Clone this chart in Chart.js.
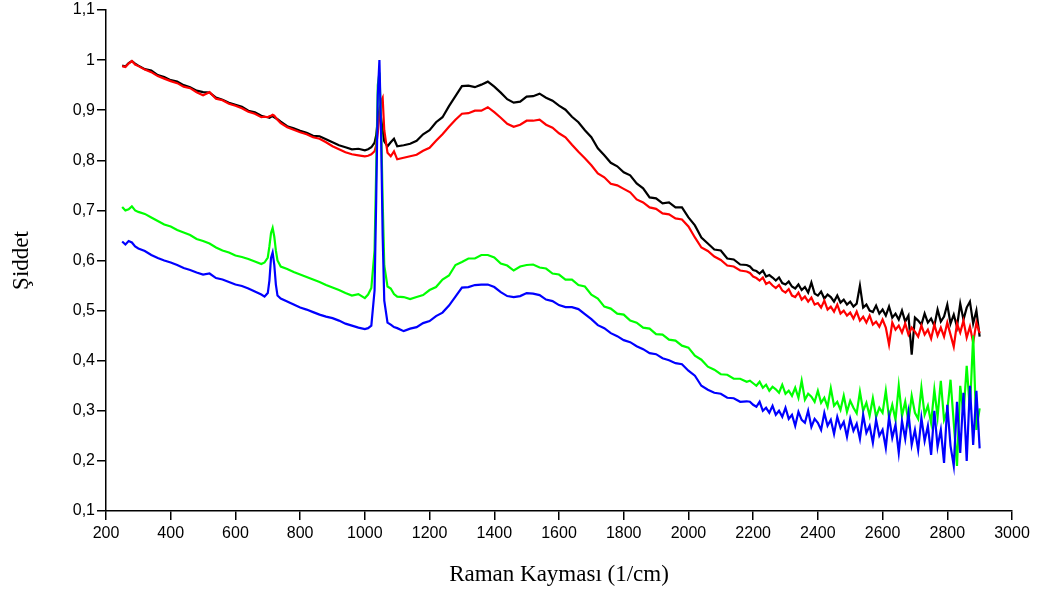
<!DOCTYPE html>
<html>
<head>
<meta charset="utf-8">
<script src="https://cdn.jsdelivr.net/npm/chart.js@4"></script>
<style>
  body { margin: 0; background: #fff; }
</style>
</head>
<body>
<canvas id="ramanChart" width="1037" height="592"></canvas>
<script>
// Raman kayması (1/cm)
const shifts = [
  250, 260, 270, 280, 290, 300,
  320, 340, 360, 380, 400, 420, 440, 460, 480, 500, 520, 540, 560, 580, 600, 620, 640, 660, 680,
  690, 700, 705, 710, 715, 720, 725, 730,
  740, 760, 780, 800, 820, 840, 860, 880, 900, 920, 940, 960, 980, 1000,
  1010, 1020, 1030, 1035, 1040, 1045, 1050, 1055, 1060, 1070, 1080, 1090, 1100,
  1120, 1140, 1160, 1180, 1200, 1220, 1240, 1260, 1280, 1300, 1320, 1340, 1360, 1380, 1400, 1420, 1440, 1460,
  1480, 1500, 1520, 1540, 1560, 1580, 1600, 1620, 1640, 1660, 1680, 1700, 1720, 1740, 1760, 1780, 1800, 1820,
  1840, 1860, 1880, 1900, 1920, 1940, 1960, 1980, 2000, 2020, 2040, 2060, 2080, 2100, 2120, 2140, 2160, 2180,
  2190, 2200, 2210, 2220, 2230, 2240, 2250, 2260, 2270, 2280, 2290, 2300, 2310, 2320, 2330, 2340, 2350, 2360,
  2370, 2380, 2390, 2400, 2410, 2420, 2430, 2440, 2450, 2460, 2470, 2480, 2490, 2500, 2510, 2520, 2530, 2540,
  2550, 2560, 2570, 2580, 2590, 2600, 2610, 2620, 2630, 2640, 2650, 2660, 2670, 2680, 2690, 2700, 2710, 2720,
  2730, 2740, 2750, 2760, 2770, 2780, 2790, 2800, 2810, 2820, 2830, 2840, 2850, 2860, 2870, 2880, 2890, 2900
];

// Siyah spektrum
const blackSeries = [
  0.989, 0.987, 0.994, 0.998, 0.993, 0.989,
  0.982, 0.979, 0.970, 0.966, 0.960, 0.957, 0.950, 0.946, 0.939, 0.936, 0.935, 0.925, 0.921, 0.915, 0.911, 0.907, 0.899, 0.896, 0.889,
  0.887, 0.886, 0.885, 0.887, 0.888, 0.886, 0.884, 0.882,
  0.877, 0.868, 0.864, 0.859, 0.855, 0.849, 0.848, 0.842, 0.836, 0.830, 0.826, 0.822, 0.823, 0.820,
  0.822, 0.826, 0.835, 0.850, 0.880, 0.900, 0.885, 0.860, 0.838, 0.828, 0.836, 0.843, 0.828,
  0.830, 0.833, 0.839, 0.852, 0.860, 0.876, 0.886, 0.908, 0.928, 0.948, 0.949, 0.946, 0.951, 0.957, 0.947, 0.935, 0.922, 0.915,
  0.917, 0.927, 0.928, 0.933, 0.925, 0.919, 0.909, 0.901, 0.887, 0.876, 0.860, 0.846, 0.824, 0.810, 0.795, 0.788, 0.776, 0.770,
  0.754, 0.744, 0.726, 0.724, 0.714, 0.716, 0.706, 0.706, 0.686, 0.670, 0.646, 0.634, 0.622, 0.620, 0.604, 0.602, 0.592, 0.591,
  0.588, 0.581, 0.579, 0.574, 0.580, 0.568, 0.571, 0.566, 0.560, 0.566, 0.555, 0.552, 0.558, 0.548, 0.544, 0.552, 0.541, 0.547,
  0.536, 0.556, 0.534, 0.530, 0.538, 0.524, 0.532, 0.527, 0.518, 0.530, 0.516, 0.522, 0.512, 0.518, 0.508, 0.514, 0.550, 0.506,
  0.512, 0.500, 0.497, 0.510, 0.494, 0.502, 0.490, 0.508, 0.486, 0.494, 0.482, 0.500, 0.478, 0.490, 0.412, 0.486, 0.480, 0.472,
  0.494, 0.476, 0.484, 0.470, 0.502, 0.478, 0.488, 0.512, 0.474, 0.492, 0.468, 0.514, 0.482, 0.506, 0.518, 0.474, 0.500, 0.448
];

// Kırmızı spektrum
const redSeries = [
  0.988, 0.986, 0.993, 0.998, 0.991, 0.988,
  0.981, 0.976, 0.968, 0.963, 0.958, 0.954, 0.947, 0.944, 0.936, 0.930, 0.936, 0.923, 0.920, 0.913, 0.909, 0.904, 0.897, 0.893, 0.886,
  0.887, 0.886, 0.888, 0.889, 0.891, 0.889, 0.885, 0.881,
  0.874, 0.866, 0.861, 0.856, 0.852, 0.846, 0.843, 0.836, 0.828, 0.822, 0.816, 0.812, 0.810, 0.808,
  0.809, 0.812, 0.818, 0.830, 0.855, 0.890, 0.918, 0.925, 0.860, 0.815, 0.808, 0.818, 0.802,
  0.805, 0.808, 0.811, 0.819, 0.825, 0.839, 0.852, 0.867, 0.881, 0.893, 0.894, 0.899, 0.899, 0.906, 0.896, 0.885, 0.873, 0.867,
  0.871, 0.879, 0.879, 0.881, 0.871, 0.865, 0.854, 0.846, 0.831, 0.817, 0.804, 0.790, 0.774, 0.766, 0.753, 0.750, 0.743, 0.736,
  0.722, 0.716, 0.706, 0.703, 0.694, 0.692, 0.684, 0.682, 0.668, 0.646, 0.626, 0.619, 0.608, 0.601, 0.590, 0.588, 0.580, 0.578,
  0.575, 0.568, 0.565, 0.560, 0.566, 0.553, 0.557, 0.550, 0.545, 0.551, 0.540, 0.536, 0.543, 0.530, 0.527, 0.536, 0.522, 0.528,
  0.518, 0.526, 0.512, 0.515, 0.506, 0.520, 0.502, 0.508, 0.498, 0.512, 0.494, 0.500, 0.490, 0.496, 0.484, 0.498, 0.480, 0.488,
  0.476, 0.490, 0.472, 0.478, 0.468, 0.482, 0.466, 0.432, 0.476, 0.462, 0.470, 0.456, 0.474, 0.452, 0.466, 0.458, 0.448, 0.470,
  0.452, 0.462, 0.444, 0.472, 0.450, 0.466, 0.448, 0.476, 0.452, 0.428, 0.474, 0.456, 0.480, 0.446, 0.468, 0.436, 0.476, 0.455
];

// Yeşil spektrum
const greenSeries = [
  0.707, 0.700, 0.702, 0.708, 0.700, 0.697,
  0.693, 0.686, 0.679, 0.672, 0.668, 0.661, 0.656, 0.651, 0.643, 0.639, 0.634, 0.626, 0.620, 0.616, 0.610, 0.607, 0.603, 0.598, 0.593,
  0.596, 0.606, 0.628, 0.655, 0.665, 0.648, 0.620, 0.600,
  0.588, 0.583, 0.577, 0.572, 0.567, 0.562, 0.557, 0.551, 0.546, 0.541, 0.535, 0.530, 0.533, 0.525,
  0.532, 0.545, 0.620, 0.780, 0.950, 0.975, 0.880, 0.720, 0.590, 0.548, 0.544, 0.533, 0.528,
  0.527, 0.523, 0.527, 0.531, 0.541, 0.547, 0.562, 0.570, 0.591, 0.597, 0.604, 0.604, 0.611, 0.611, 0.606, 0.594, 0.590, 0.580,
  0.588, 0.591, 0.592, 0.586, 0.584, 0.574, 0.572, 0.562, 0.562, 0.551, 0.548, 0.532, 0.524, 0.508, 0.504, 0.494, 0.492, 0.480,
  0.476, 0.466, 0.464, 0.453, 0.452, 0.442, 0.440, 0.430, 0.426, 0.410, 0.402, 0.388, 0.382, 0.373, 0.372, 0.364, 0.364, 0.358,
  0.360, 0.355, 0.350, 0.358, 0.346, 0.352, 0.340, 0.348, 0.343, 0.336, 0.352, 0.334, 0.340, 0.330, 0.346, 0.326, 0.360, 0.322,
  0.334, 0.328, 0.318, 0.340, 0.316, 0.326, 0.308, 0.345, 0.310, 0.318, 0.302, 0.330, 0.298, 0.320, 0.306, 0.295, 0.338, 0.300,
  0.316, 0.290, 0.325, 0.288, 0.306, 0.296, 0.340, 0.286, 0.312, 0.282, 0.350, 0.290, 0.318, 0.278, 0.330, 0.296, 0.284, 0.346,
  0.292, 0.310, 0.276, 0.342, 0.288, 0.360, 0.282, 0.300, 0.362, 0.276, 0.190, 0.350, 0.292, 0.390, 0.302, 0.450, 0.262, 0.305
];

// Mavi spektrum
const blueSeries = [
  0.638, 0.632, 0.639, 0.636, 0.628, 0.624,
  0.619, 0.611, 0.605, 0.600, 0.596, 0.591, 0.585, 0.581, 0.576, 0.572, 0.574, 0.565, 0.562, 0.557, 0.552, 0.549, 0.544, 0.538, 0.532,
  0.528, 0.535, 0.560, 0.605, 0.616, 0.592, 0.552, 0.530,
  0.524, 0.518, 0.512, 0.506, 0.502, 0.497, 0.492, 0.488, 0.485, 0.480, 0.474, 0.470, 0.466, 0.463,
  0.465, 0.470, 0.540, 0.720, 0.930, 1.000, 0.860, 0.650, 0.520, 0.476, 0.472, 0.467, 0.465,
  0.459, 0.464, 0.467, 0.475, 0.479, 0.489, 0.496, 0.510, 0.528, 0.546, 0.547, 0.551, 0.552, 0.552, 0.547, 0.537, 0.529, 0.527,
  0.529, 0.535, 0.534, 0.531, 0.522, 0.519, 0.511, 0.507, 0.507, 0.503, 0.493, 0.483, 0.471, 0.465, 0.455, 0.449, 0.441, 0.437,
  0.429, 0.423, 0.415, 0.413, 0.405, 0.401, 0.395, 0.393, 0.380, 0.370, 0.350, 0.342, 0.336, 0.334, 0.326, 0.325, 0.318, 0.319,
  0.318, 0.312, 0.308, 0.318, 0.300, 0.306, 0.296, 0.310, 0.292, 0.300, 0.288, 0.306, 0.284, 0.292, 0.270, 0.298, 0.282, 0.276,
  0.300, 0.268, 0.284, 0.276, 0.262, 0.296, 0.270, 0.282, 0.254, 0.288, 0.266, 0.278, 0.248, 0.284, 0.260, 0.274, 0.244, 0.292,
  0.256, 0.270, 0.236, 0.282, 0.250, 0.262, 0.226, 0.288, 0.246, 0.272, 0.216, 0.280, 0.244, 0.296, 0.232, 0.262, 0.222, 0.286,
  0.240, 0.270, 0.212, 0.300, 0.228, 0.262, 0.196, 0.312, 0.230, 0.190, 0.318, 0.216, 0.336, 0.200, 0.350, 0.232, 0.340, 0.225
];

const yTicks = ["0,1", "0,2", "0,3", "0,4", "0,5", "0,6", "0,7", "0,8", "0,9", "1", "1,1"];

function points(values) {
  return shifts.map((s, i) => ({ x: s, y: values[i] }));
}

function line(values, color, order) {
  return {
    data: points(values),
    borderColor: color,
    borderWidth: 2.2,
    pointRadius: 0,
    tension: 0,
    fill: false,
    order: order
  };
}

const tickFont = { family: "'Liberation Sans', Arial, sans-serif", size: 16, lineHeight: 1 };
const titleFont = { family: "'Liberation Serif', 'Times New Roman', serif", size: 23 };

new Chart(document.getElementById("ramanChart"), {
  type: "line",
  data: {
    datasets: [
      line(blackSeries, "#000000", 4),
      line(redSeries, "#ff0000", 3),
      line(greenSeries, "#00ff00", 2),
      line(blueSeries, "#0000ff", 1)
    ]
  },
  options: {
    responsive: false,
    animation: false,
    layout: { padding: { top: 7, right: 25, bottom: 0, left: 0 } },
    plugins: {
      legend: { display: false },
      tooltip: { enabled: false }
    },
    scales: {
      x: {
        type: "linear",
        min: 200,
        max: 3000,
        afterFit: scale => { scale.height = 81; },
        ticks: { stepSize: 200, color: "#000", font: tickFont, padding: 6, maxRotation: 0, callback: value => String(value) },
        grid: { drawOnChartArea: false, drawTicks: true, tickLength: 9, color: "#000", lineWidth: 1.5 },
        border: { display: true, color: "#000", width: 1.5 },
        title: { display: true, text: "Raman Kayması (1/cm)", color: "#000", font: titleFont, padding: { top: 0, bottom: 3 } }
      },
      y: {
        min: 0.1,
        max: 1.1,
        afterFit: scale => { scale.width = 106; },
        ticks: {
          stepSize: 0.1,
          color: "#000",
          font: tickFont,
          padding: 2,
          callback: value => yTicks[Math.round(value * 10) - 1]
        },
        grid: { drawOnChartArea: false, drawTicks: true, tickLength: 9, color: "#000", lineWidth: 1.5 },
        border: { display: true, color: "#000", width: 1.5 },
        title: { display: true, text: "Şiddet", color: "#000", font: titleFont, padding: { top: 8, bottom: 0 } }
      }
    }
  }
});
</script>
</body>
</html>
